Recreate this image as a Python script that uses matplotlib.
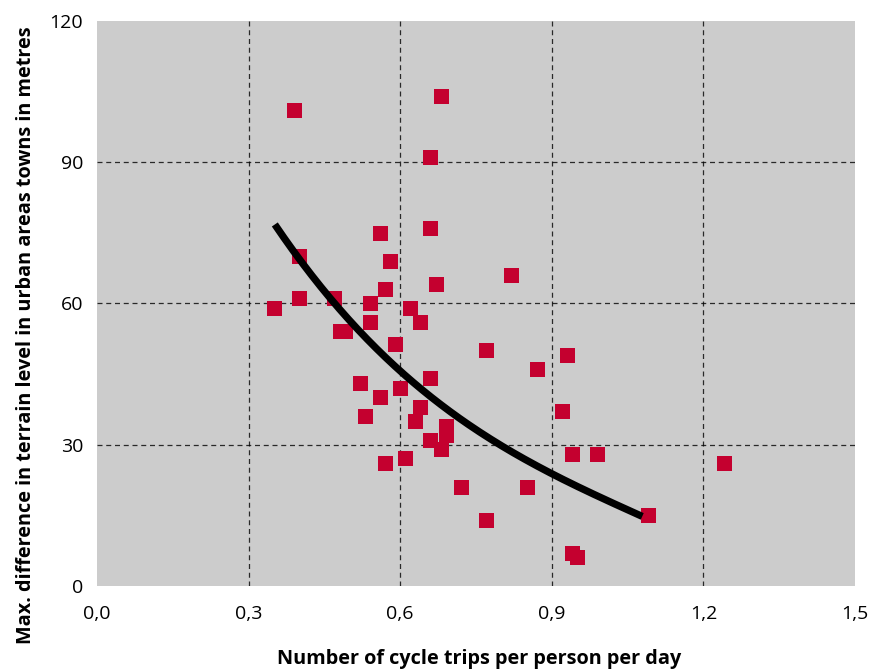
import numpy as np
import matplotlib
matplotlib.use("Agg")
import matplotlib.pyplot as plt

# scatter points
trips = [0.39, 0.68, 0.66, 0.66, 0.56, 0.40, 0.58, 0.82, 0.67, 0.57,
         0.40, 0.47, 0.54, 0.35, 0.62, 0.54, 0.64, 0.48, 0.49, 0.59,
         0.77, 0.93, 0.87, 0.66, 0.52, 0.60, 0.56, 0.64, 0.92, 0.53,
         0.63, 0.69, 0.69, 0.66, 0.68, 0.94, 0.99, 0.61, 0.57, 1.24,
         0.72, 0.85, 0.77, 1.09, 0.94, 0.95]
terrain = [101.1, 104.1, 91.1, 76.0, 75.0, 70.1, 69.0, 66.1, 64.1, 63.1,
           61.2, 61.2, 60.1, 59.0, 59.0, 56.1, 56.1, 54.2, 54.2, 51.3,
           50.1, 49.1, 46.1, 44.2, 43.1, 42.1, 40.1, 38.0, 37.2, 36.1,
           35.0, 34.0, 32.1, 31.0, 29.1, 28.0, 28.0, 27.2, 26.1, 26.1,
           21.0, 21.0, 14.0, 15.1, 7.0, 6.2]

# points
trend_x = [0.352, 0.471, 0.600, 0.659, 0.792, 0.900, 1.079]
trend_y = [76.7, 60.0, 45.9, 40.1, 30.0, 24.2, 14.7]

x_ticks = [0.0, 0.3, 0.6, 0.9, 1.2, 1.5]
x_labels = ["0,0", "0,3", "0,6", "0,9", "1,2", "1,5"]
y_ticks = [0, 30, 60, 90, 120]

plt.rcParams['font.family'] = ['Open Sans', 'DejaVu Sans']

fig = plt.figure(figsize=(8.81, 6.72), dpi=100)
ax = fig.add_axes([0.110, 0.128, 0.8605, 0.841])
ax.set_facecolor("#cccccc")

ax.plot(trips, terrain, linestyle="none", marker="s", markersize=10.8,
        markeredgewidth=0, color="#c4002f", zorder=3)

# smooth trend through the read points
coef = np.polyfit(trend_x, trend_y, 3)
xs = np.linspace(trend_x[0], trend_x[-1], 200)
ax.plot(xs, np.polyval(coef, xs), color="black", linewidth=5.2,
        solid_capstyle="butt", zorder=4)

ax.set_xlim(0, 1.5)
ax.set_ylim(0, 120)
ax.set_xticks(x_ticks)
ax.set_xticklabels(x_labels)
ax.set_yticks(y_ticks)
ax.tick_params(length=0, labelsize=14, colors="black")
ax.tick_params(axis="x", pad=14)
ax.tick_params(axis="y", pad=10)

ax.grid(True, color="black", linestyle=(0, (4, 3)), linewidth=0.9, alpha=0.8)
ax.set_axisbelow(True)
# no grid lines on the plot border
for line, t in zip(ax.get_xgridlines(), x_ticks):
    if t in (x_ticks[0], x_ticks[-1]):
        line.set_visible(False)
for line, t in zip(ax.get_ygridlines(), y_ticks):
    if t in (y_ticks[0], y_ticks[-1]):
        line.set_visible(False)
for s in ax.spines.values():
    s.set_visible(False)

ax.set_xlabel("Number of cycle trips per person per day", fontsize=14.3,
              fontweight="bold")
ax.set_ylabel("Max. difference in terrain level in urban areas towns in metres",
              fontsize=14.3, fontweight="bold")
ax.xaxis.set_label_coords(0.504, -0.112)
ax.yaxis.set_label_coords(-0.081, 0.444)

fig.savefig("out.png", dpi=100)
